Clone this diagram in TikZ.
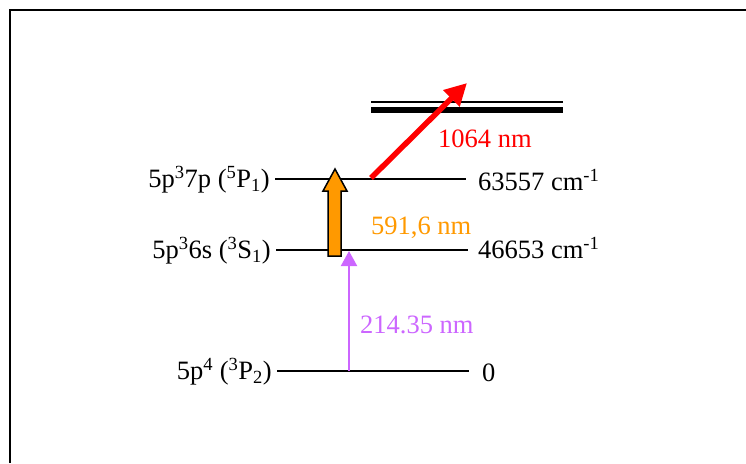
\documentclass[tikz,border=0pt]{standalone}
\usepackage{fontspec}
\setmainfont{Liberation Serif}
\usetikzlibrary{arrows.meta}
\definecolor{myorange}{HTML}{FF9900}
\definecolor{myviolet}{HTML}{CC66FF}
\definecolor{myred}{HTML}{FF0000}
\begin{document}
\begin{tikzpicture}[x=1pt,y=-1pt,
  lbl/.style={font=\fontsize{26.5}{31}\selectfont, inner sep=0pt},
  level/.style={line width=2pt, black},
  frameline/.style={line width=2pt, black}]
\useasboundingbox (0,0) rectangle (746,463);
% frame
\coordinate (fbl) at (9.5,463);
\coordinate (ftl) at (9.5,10);
\coordinate (ftr) at (746,10);
\draw[frameline] (fbl) -- (ftl) -- (ftr);
% levels
\coordinate (aL) at (275,179); \coordinate (aR) at (466,179);
\coordinate (bL) at (276,250); \coordinate (bR) at (468,250);
\coordinate (cL) at (277,371); \coordinate (cR) at (469,371);
\draw[level] (aL) -- (aR);
\draw[level] (bL) -- (bR);
\draw[level] (cL) -- (cR);
% continuum
\coordinate (dL1) at (371,102); \coordinate (dR1) at (563,102);
\coordinate (dL2) at (371,109.5); \coordinate (dR2) at (563,109.5);
\draw[line width=2pt] (dL1) -- (dR1);
\draw[line width=6pt] (dL2) -- (dR2);
% left labels
\node[lbl, anchor=east] (la) at (270,180) {5p\textsuperscript{3}7p (\textsuperscript{5}P\textsubscript{1})};
\node[lbl, anchor=east] (lb) at (271,251) {5p\textsuperscript{3}6s (\textsuperscript{3}S\textsubscript{1})};
\node[lbl, anchor=east] (lc) at (272,372) {5p\textsuperscript{4} (\textsuperscript{3}P\textsubscript{2})};
% right labels
\node[lbl, anchor=west] (ra) at (478,180) {63557 cm\textsuperscript{-1}};
\node[lbl, anchor=west] (rb) at (478,248) {46653 cm\textsuperscript{-1}};
\node[lbl, anchor=west] (rc) at (482,373) {0};
% orange block arrow
\draw[line width=1.5pt, fill=myorange, line join=miter]
  (328,256) -- (328,191) -- (323,191) -- (335,169) -- (347,191) -- (341,191) -- (341,256) -- cycle;
\node[lbl, text=myorange, anchor=west] (lo) at (371,228) {591,6 nm};
% violet arrow
\coordinate (vS) at (349,371);
\coordinate (vE) at (349,251);
\draw[myviolet, line width=2pt, -{Triangle[length=15pt,width=16pt]}] (vS) -- (vE);
\node[lbl, text=myviolet, anchor=west] (lv) at (360,325) {214.35 nm};
% red arrow
\coordinate (rS) at (371,178);
\coordinate (rE) at (467,83);
\draw[myred, line width=5.5pt, -{Triangle[length=22pt,width=22pt]}] (rS) -- (rE);
\node[lbl, text=myred, anchor=west] (lr) at (438,139) {1064 nm};
\end{tikzpicture}
\end{document}
